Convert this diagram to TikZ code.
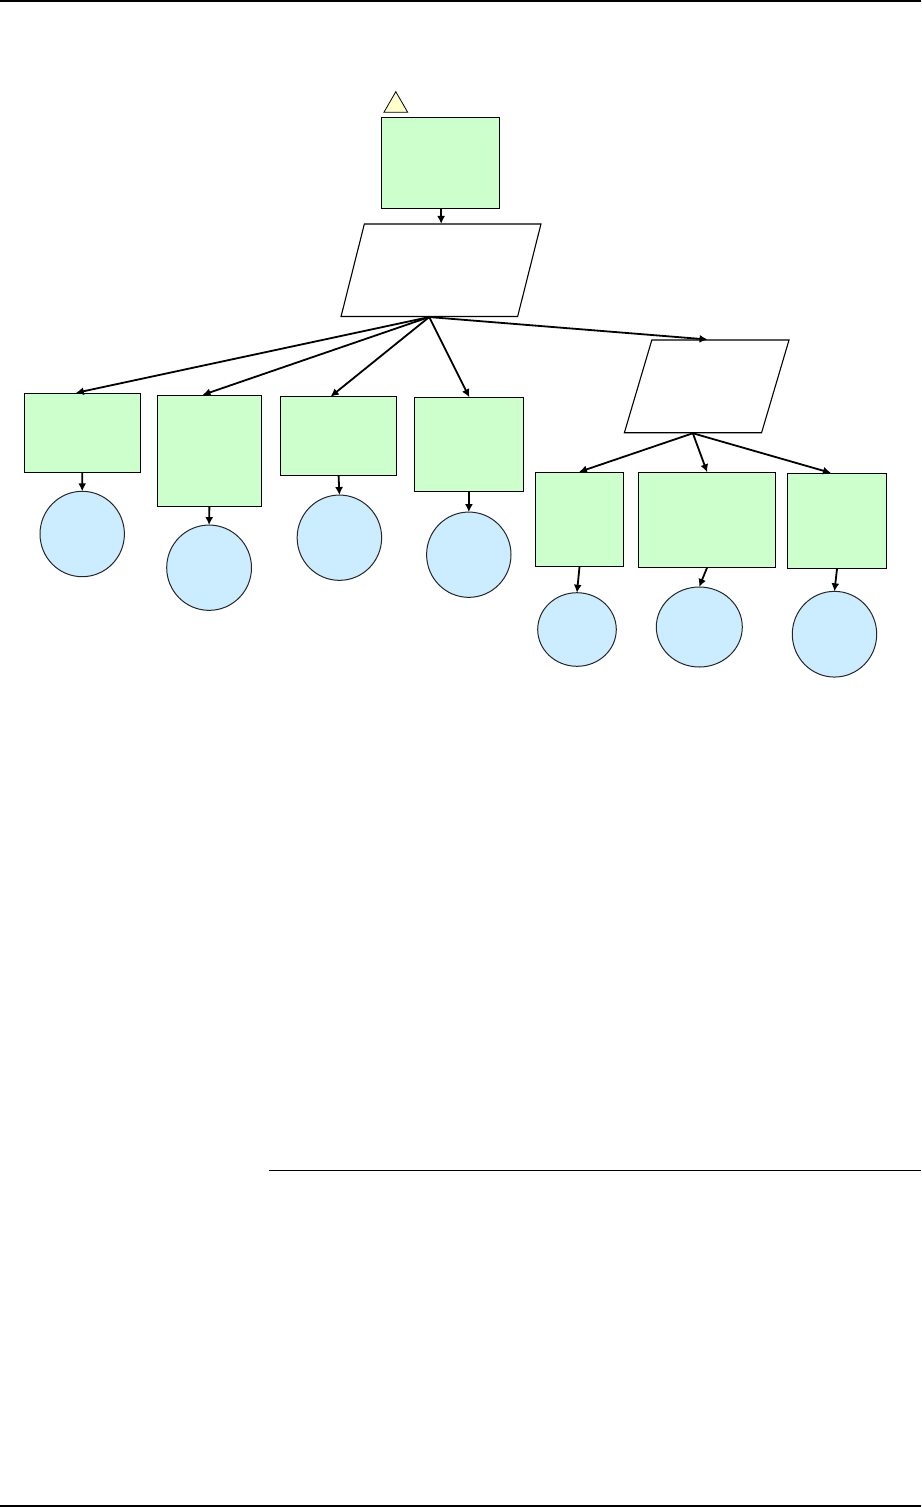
\documentclass[tikz,border=0pt]{standalone}
\usetikzlibrary{shapes.geometric,arrows.meta,calc}
\definecolor{boxgreen}{HTML}{CCFFCC}
\definecolor{discblue}{HTML}{CCECFF}
\definecolor{warnyellow}{HTML}{FFFFCC}
\tikzset{
  boxg/.style={draw=black,line width=1pt,fill=boxgreen,rectangle,inner sep=0pt,minimum width=#1},
  disc/.style 2 args={draw=black!85,line width=1pt,fill=discblue,ellipse,inner sep=0pt,minimum width=#1,minimum height=#2},
  slantbox/.style={draw=black,line width=1.1pt,fill=white,rectangle,inner sep=0pt,transform shape},
  link/.style={draw=black,line width=1.8pt,-{Latex[length=8pt,width=8pt]},shorten >=-0.5pt},
  rulebar/.style={fill=black,draw=none}
}
\begin{document}
\begin{tikzpicture}[x=1pt,y=-1pt]
\useasboundingbox (0,0) rectangle (921,1507);
% page rules
\coordinate (topA) at (0,0); \coordinate (topB) at (921,2);
\coordinate (botA) at (0,1505); \coordinate (botB) at (921,1507);
\coordinate (midA) at (269,1170.3); \coordinate (midB) at (921,1170.3);
\fill[rulebar] (topA) rectangle (topB);
\fill[rulebar] (botA) rectangle (botB);
\draw[black,line width=1pt] (midA) -- (midB);
% warning triangle
\node[regular polygon,regular polygon sides=3,draw=black,line width=0.8pt,fill=warnyellow,inner sep=0pt,minimum size=27.4pt] (warn) at (395.8,105.4) {};
% root and parallelograms
\node[boxg=118.2pt,minimum height=91pt] (root) at (440.4,162.8) {};
\node[slantbox,minimum width=176.6pt,minimum height=92.5pt,xslant=0.252] (pa) at (441,270.25) {};
\node[slantbox,minimum width=137.2pt,minimum height=92.7pt,xslant=0.296] (pb) at (706.7,386.35) {};
% first row
\node[boxg=116.4pt,minimum height=79.4pt] (ra) at (82.3,433) {};
\node[boxg=104.5pt,minimum height=111pt] (rb) at (209.4,450.8) {};
\node[boxg=116.6pt,minimum height=79pt] (rc) at (338.6,435.8) {};
\node[boxg=109.2pt,minimum height=94pt] (rd) at (469.1,444.3) {};
% second row
\node[boxg=88.4pt,minimum height=94pt] (re) at (579.5,519.3) {};
\node[boxg=137.4pt,minimum height=95pt] (rf) at (707,519.8) {};
\node[boxg=99.4pt,minimum height=95pt] (rg) at (837,520.8) {};
% discs
\node[disc={84.4pt}{85.4pt}] (da) at (82.2,534) {};
\node[disc={84.8pt}{85.3pt}] (db) at (209.1,567.7) {};
\node[disc={84.5pt}{85.3pt}] (dc) at (339.4,537.7) {};
\node[disc={84.4pt}{85.3pt}] (dd) at (468.8,554.7) {};
\node[disc={78.6pt}{73.6pt}] (de) at (577,629.5) {};
\node[disc={86pt}{80pt}] (df) at (699.3,627) {};
\node[disc={84.4pt}{85.7pt}] (dg) at (834.5,634.2) {};
% connectors
\draw[link] (root.south) ++(0.6,0) -- ($(pa.north)+(-11.6,0)$);
\draw[link] (pa.south) -- ($(ra.north)+(-6,0)$);
\draw[link] (pa.south) -- ($(rb.north)+(-6.4,0)$);
\draw[link] (pa.south) -- ($(rc.north)+(-7.6,0.5)$);
\draw[link] (pa.south) -- (rd.north);
\draw[link] (pa.south) -- ($(pb.north)+(-13.5,0)$);
\draw[link] (pb.south) -- (re.north);
\draw[link] (pb.south) -- (rf.north);
\draw[link] (pb.south) -- ($(rg.north)+(-6.5,0)$);
\draw[link] (ra.south) -- (da.north);
\draw[link] (rb.south) -- (db.north);
\draw[link] (rc.south) -- (dc.north);
\draw[link] (rd.south) -- (dd.north);
\draw[link] (re.south) -- (de.north);
\draw[link] (rf.south) -- (df.north);
\draw[link] (rg.south) -- (dg.north);
\end{tikzpicture}
\end{document}
